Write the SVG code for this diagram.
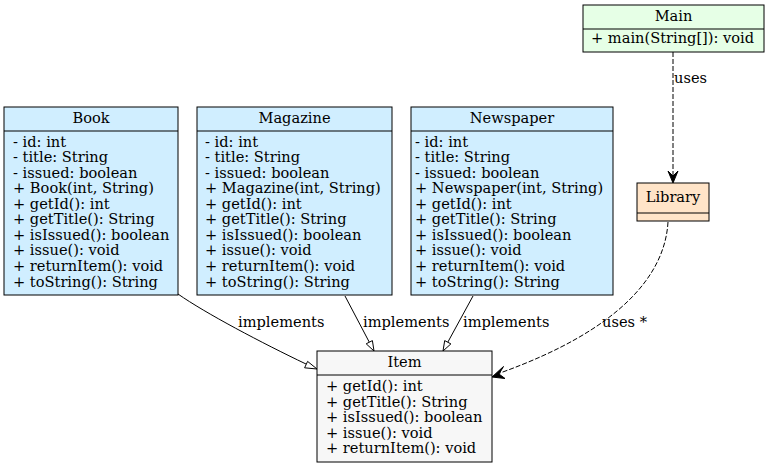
<svg xmlns="http://www.w3.org/2000/svg" width="768" height="467" viewBox="0 0 768 467">
<style>
text{font-family:"DejaVu Serif","Liberation Serif",serif;font-size:14.6px;fill:#000}
.c{text-anchor:middle}
.box{stroke:#000;stroke-width:1}
.blue{fill:#d0eeff}
.green{fill:#e6ffe6}
.orange{fill:#ffe4c8}
.gray{fill:#f7f7f7}
.e{fill:none;stroke:#000;stroke-width:1}
.d{stroke-dasharray:5,2}
.tri{fill:#fff;stroke:#000;stroke-width:1}
.vee{fill:#000;stroke:#000;stroke-width:1}
</style>
<rect width="768" height="467" fill="#fff"/>
<g id="connectors">
<path class="e" d="M178,294 C205,313 262,343 306,364"/>
<polygon class="tri" points="317,369 304.6,367.8 307.6,361.4"/>
<text x="238" y="327">implements</text>
<path class="e" d="M345,296 L369.3,342.2"/>
<polygon class="tri" points="374,351 366.2,343.8 372.4,340.6"/>
<text x="363" y="327">implements</text>
<path class="e" d="M473,296 L447.8,342.2"/>
<polygon class="tri" points="443,351 444.7,340.6 450.9,343.9"/>
<text x="463" y="327">implements</text>
<path class="e d" d="M673,52 L673,177"/>
<polygon class="vee" points="673,183 668,171 673,176 678,171"/>
<text x="674" y="83">uses</text>
<path class="e d" d="M668,222 C665,275 620,330 500,373"/>
<polygon class="vee" points="492,377 503.5,366.5 499,374 505,378.5"/>
<text x="602" y="327">uses *</text>
</g>
<g id="Main">
<rect class="box green" x="583" y="5" width="181" height="47"/>
<line class="box" x1="583" y1="29" x2="764" y2="29"/>
<text class="c" x="673.5" y="21">Main</text>
<text x="591" y="43">+ main(String[]): void</text>
</g>
<g id="Library">
<rect class="box orange" x="637" y="183" width="72" height="38"/>
<line class="box" x1="637" y1="213" x2="709" y2="213"/>
<text class="c" x="673" y="202">Library</text>
</g>
<g id="Book">
<rect class="box blue" x="4" y="107" width="174" height="188"/>
<line class="box" x1="4" y1="131" x2="178" y2="131"/>
<text class="c" x="91" y="123">Book</text>
<text x="13" y="146.5">- id: int</text>
<text x="13" y="162">- title: String</text>
<text x="13" y="177.6">- issued: boolean</text>
<text x="13" y="193.2">+ Book(int, String)</text>
<text x="13" y="208.7">+ getId(): int</text>
<text x="13" y="224.3">+ getTitle(): String</text>
<text x="13" y="239.8">+ isIssued(): boolean</text>
<text x="13" y="255.4">+ issue(): void</text>
<text x="13" y="271">+ returnItem(): void</text>
<text x="13" y="286.5">+ toString(): String</text>
</g>
<g id="Magazine">
<rect class="box blue" x="197" y="107" width="195" height="188"/>
<line class="box" x1="197" y1="131" x2="392" y2="131"/>
<text class="c" x="294.5" y="123">Magazine</text>
<text x="205" y="146.5">- id: int</text>
<text x="205" y="162">- title: String</text>
<text x="205" y="177.6">- issued: boolean</text>
<text x="205" y="193.2">+ Magazine(int, String)</text>
<text x="205" y="208.7">+ getId(): int</text>
<text x="205" y="224.3">+ getTitle(): String</text>
<text x="205" y="239.8">+ isIssued(): boolean</text>
<text x="205" y="255.4">+ issue(): void</text>
<text x="205" y="271">+ returnItem(): void</text>
<text x="205" y="286.5">+ toString(): String</text>
</g>
<g id="Newspaper">
<rect class="box blue" x="411" y="107" width="202" height="188"/>
<line class="box" x1="411" y1="131" x2="613" y2="131"/>
<text class="c" x="512" y="123">Newspaper</text>
<text x="415" y="146.5">- id: int</text>
<text x="415" y="162">- title: String</text>
<text x="415" y="177.6">- issued: boolean</text>
<text x="415" y="193.2">+ Newspaper(int, String)</text>
<text x="415" y="208.7">+ getId(): int</text>
<text x="415" y="224.3">+ getTitle(): String</text>
<text x="415" y="239.8">+ isIssued(): boolean</text>
<text x="415" y="255.4">+ issue(): void</text>
<text x="415" y="271">+ returnItem(): void</text>
<text x="415" y="286.5">+ toString(): String</text>
</g>
<g id="Item">
<rect class="box gray" x="317" y="351" width="175" height="111"/>
<line class="box" x1="317" y1="375" x2="492" y2="375"/>
<text class="c" x="404.5" y="367">Item</text>
<text x="326" y="391">+ getId(): int</text>
<text x="326" y="406.5">+ getTitle(): String</text>
<text x="326" y="422">+ isIssued(): boolean</text>
<text x="326" y="437.5">+ issue(): void</text>
<text x="326" y="453">+ returnItem(): void</text>
</g>
</svg>
